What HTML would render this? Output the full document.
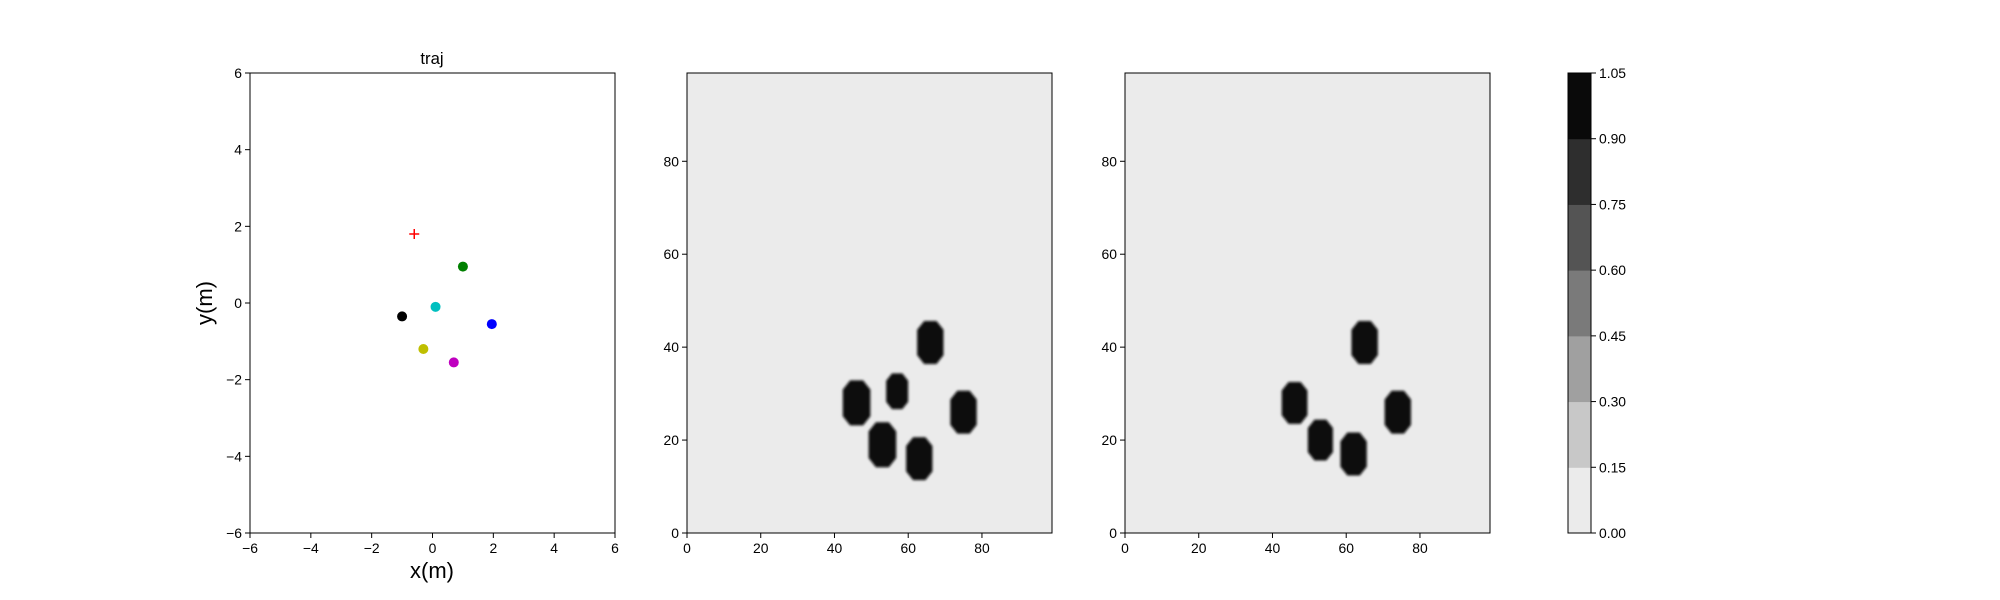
<!DOCTYPE html>
<html><head><meta charset="utf-8"><style>
body{margin:0;background:#fff}
svg{display:block;font-family:"Liberation Sans",sans-serif}
</style></head><body>
<svg id="fig" width="2000" height="600" xmlns="http://www.w3.org/2000/svg">
<defs><filter id="soft" x="-20%" y="-20%" width="140%" height="140%"><feGaussianBlur stdDeviation="1.4"/></filter></defs>
<text x="432" y="64" font-size="16.7" text-anchor="middle">traj</text>
<text x="432" y="578" font-size="22" text-anchor="middle">x(m)</text>
<text transform="translate(212,303) rotate(-90)" font-size="22" text-anchor="middle">y(m)</text>
<g id="g1"></g>
<g id="g2"></g>
<g id="g3"></g>
<g id="cb"></g>
</svg>
<script>
const NS="http://www.w3.org/2000/svg";
const trajTicks=[-6,-4,-2,0,2,4,6];
const pointsX=[1,0.1,-1,1.95,-0.3,0.7];
const pointsY=[0.95,-0.1,-0.35,-0.55,-1.2,-1.55];
const pointColors=["#008000","#00bfbf","#000000","#0000ff","#bfbf00","#bf00bf"];
const targetX=[-0.6];
const targetY=[1.8];
const gridTicks=[0,20,40,60,80];
const blobs1X=[66,46,57,75,53,63];
const blobs1Y=[41,28,30.5,26,19,16];
const blobs1R=[4.2,4.4,3.5,4.2,4.4,4.2];
const blobs2X=[65,46,74,53,62];
const blobs2Y=[41,28,26,20,17];
const blobs2R=[4.2,4.1,4.2,4.0,4.2];
const cbLevels=[0,0.15,0.30,0.45,0.60,0.75,0.90,1.05];
const cbColors=["#ebebeb","#c8c8c8","#a0a0a0","#7a7a7a","#545454","#2e2e2e","#0a0a0a"];
const cbTickLabels=["0.00","0.15","0.30","0.45","0.60","0.75","0.90","1.05"];
const T=73,B=533;
function el(tag,attrs,parent){const e=document.createElementNS(NS,tag);for(const k in attrs)e.setAttribute(k,attrs[k]);parent.appendChild(e);return e;}
function axesFrame(g,L,R,name){
  const r=el("rect",{x:L,y:T,width:R-L,height:B-T,fill:"none",stroke:"#000","stroke-width":1},g);
  
  
}
function xtick(g,x,label){
  const l=el("line",{x1:x,x2:x,y1:B,y2:B+5,stroke:"#000"},g);
  
  
  const t=el("text",{x:x,y:B+20,"font-size":13.9,"text-anchor":"middle"},g);t.textContent=label;
  
  
}
function ytick(g,xL,y,label){
  const l=el("line",{x1:xL-5,x2:xL,y1:y,y2:y,stroke:"#000"},g);
  
  
  const t=el("text",{x:xL-8,y:y+5,"font-size":13.9,"text-anchor":"end"},g);t.textContent=label;
  
  
}
(function(){
  const g=document.getElementById("g1"),L=250,R=615;
  const sx=v=>L+(v+6)/12*(R-L), sy=v=>B-(v+6)/12*(B-T);
  axesFrame(g,L,R,'traj');
  trajTicks.forEach(v=>{xtick(g,sx(v),v<0?"\u2212"+(-v):String(v));ytick(g,L,sy(v),v<0?"\u2212"+(-v):String(v));});
  pointsX.forEach((x,i)=>{
    const c=el("circle",{cx:sx(x),cy:sy(pointsY[i]),r:5,fill:pointColors[i]},g);
    
    
  });
  targetX.forEach((x,i)=>{
    const cx=sx(x),cy=sy(targetY[i]);
    const p=el("path",{d:`M${cx-5},${cy}H${cx+5}M${cx},${cy-5}V${cy+5}`,stroke:"#ff0000","stroke-width":1.5},g);
    
    
  });
})();
function heat(id,L,bx,by,br,name){
  const g=document.getElementById(id),R=L+365;
  const sx=v=>L+v/99*(R-L), sy=v=>B-v/99*(B-T);
  const bg=el("rect",{x:L,y:T,width:R-L,height:B-T,fill:"#ebebeb"},g);
  
  
  bx.forEach((x,i)=>{
    const y=by[i],r=br[i],a=r*0.85,h=r*1.1,c=r*0.45;
    const pts=[[x-a+c,y+h],[x+a-c,y+h],[x+a,y+h-c],[x+a,y-h+c],[x+a-c,y-h],[x-a+c,y-h],[x-a,y-h+c],[x-a,y+h-c]]
      .map(p=>sx(p[0])+","+sy(p[1])).join(" ");
    const pg=el("polygon",{points:pts,fill:"#0a0a0a",filter:"url(#soft)"},g);
    
    
  });
  axesFrame(g,L,R,name);
  gridTicks.forEach(v=>{xtick(g,sx(v),String(v));ytick(g,L,sy(v),String(v));});
}
heat("g2",687,blobs1X,blobs1Y,blobs1R,'heatmap-1');
heat("g3",1125,blobs2X,blobs2Y,blobs2R,'heatmap-2');
(function(){
  const g=document.getElementById("cb"),L=1568,R=1591;
  const lo=cbLevels[0],hi=cbLevels[cbLevels.length-1];
  const sy=v=>B-(v-lo)/(hi-lo)*(B-T);
  cbColors.forEach((c,i)=>{
    const r=el("rect",{x:L,y:sy(cbLevels[i+1]),width:R-L,height:sy(cbLevels[i])-sy(cbLevels[i+1])+0.5,fill:c},g);
    
    
  });
  const f=el("rect",{x:L,y:T,width:R-L,height:B-T,fill:"none",stroke:"#000"},g);
  
  
  cbLevels.forEach((v,i)=>{
    const y=sy(v);
    const l=el("line",{x1:R,x2:R+5,y1:y,y2:y,stroke:"#000"},g);
    
    
    const t=el("text",{x:R+8,y:y+5,"font-size":13.9},g);t.textContent=cbTickLabels[i];
    
    
  });
})();
</script>
</body></html>
